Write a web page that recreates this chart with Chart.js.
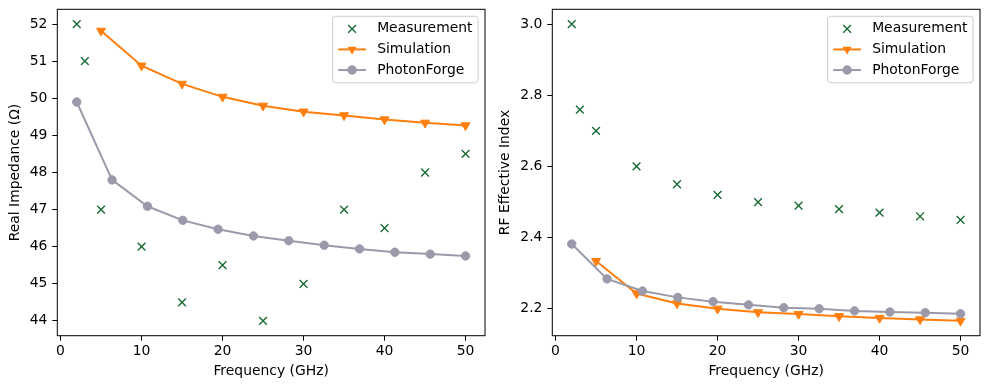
<!DOCTYPE html>
<html>
<head>
<meta charset="utf-8">
<script src="https://cdn.jsdelivr.net/npm/chart.js@4.4.1/dist/chart.umd.min.js"></script>
<style>
	body { margin: 0; background: #fff; }
	#wrap { position: relative; width: 989px; height: 389px; }
	canvas { position: absolute; top: 0; }
	#impChart { left: 0; }
	#idxChart { left: 494px; }
</style>
</head>
<body>
<div id="wrap">
	<canvas id="impChart" width="494" height="389"></canvas>
	<canvas id="idxChart" width="495" height="389"></canvas>
</div>
<script>
const freqMeas = [2, 3, 5, 10, 15, 20, 25, 30, 35, 40, 45, 50];
const freqSim = [5, 10, 15, 20, 25, 30, 35, 40, 45, 50];
const freqPF = [2, 6.36, 10.73, 15.09, 19.45, 23.82, 28.18, 32.55, 36.91, 41.27, 45.64, 50];

const impMeas = [52, 51, 47, 46, 44.5, 45.5, 44, 45, 47, 46.5, 48, 48.5];
const impSim = [51.82, 50.88, 50.39, 50.04, 49.8, 49.64, 49.54, 49.43, 49.34, 49.27];
const impPF = [49.9, 47.8, 47.09, 46.71, 46.47, 46.29, 46.16, 46.04, 45.94, 45.85, 45.8, 45.75];

const idxMeas = [3.0, 2.76, 2.7, 2.6, 2.55, 2.52, 2.5, 2.49, 2.48, 2.47, 2.46, 2.45];
const idxSim = [2.334, 2.243, 2.215, 2.2, 2.19, 2.185, 2.179, 2.174, 2.17, 2.166];
const idxPF = [2.382, 2.284, 2.25, 2.232, 2.22, 2.211, 2.203, 2.2, 2.194, 2.191, 2.189, 2.186];

const freqTicks = [0, 10, 20, 30, 40, 50];
const impTicks = [44, 45, 46, 47, 48, 49, 50, 51, 52];
const idxTicks = [2.2, 2.4, 2.6, 2.8, 3.0];

const seriesNames = ["Measurement", "Simulation", "PhotonForge"];
const seriesColors = ["#1a6b35", "#ff7f0e", "#9a9aab"];

const FS = 13.9;
Chart.defaults.font.family = "'DejaVu Sans', sans-serif";
Chart.defaults.font.size = FS;
Chart.defaults.color = "#000";

function pts(xs, ys) {
	return xs.map((x, i) => ({ x: x, y: ys[i] }));
}

// matplotlib style 5% margins
function limits(arrays) {
	const all = [].concat(...arrays);
	const lo = Math.min(...all), hi = Math.max(...all);
	const m = (hi - lo) * 0.05;
	return [lo - m, hi + m];
}

// frame box + legend inside the axes
const boxLegend = {
	id: "boxLegend",
	afterDraw(chart) {
		const ctx = chart.ctx;
		const a = chart.chartArea;
		ctx.save();
		ctx.strokeStyle = "#000";
		ctx.lineWidth = 1;
		ctx.strokeRect(a.left, a.top, a.right - a.left, a.bottom - a.top);

		ctx.font = FS + "px 'DejaVu Sans'";
		const textW = Math.max(...seriesNames.map(n => ctx.measureText(n).width));
		const bw = 0.4 * FS + 2 * FS + 0.8 * FS + textW + 0.4 * FS;
		const bh = 66.5;
		const bx = a.right - 0.5 * FS - bw;
		const by = a.top + 0.5 * FS;
		ctx.beginPath();
		ctx.roundRect(bx, by, bw, bh, 3);
		ctx.fillStyle = "rgba(255,255,255,0.8)";
		ctx.fill();
		ctx.strokeStyle = "#cccccc";
		ctx.stroke();

		const x0 = bx + 0.4 * FS, x1 = x0 + 2 * FS, cx = (x0 + x1) / 2;
		seriesNames.forEach((name, i) => {
			const y = by + 12.6 + i * 20.6;
			const c = seriesColors[i];
			ctx.strokeStyle = c;
			ctx.fillStyle = c;
			if (i > 0) {
				ctx.lineWidth = 2;
				ctx.beginPath();
				ctx.moveTo(x0, y);
				ctx.lineTo(x1, y);
				ctx.stroke();
			}
			ctx.lineWidth = 1.4;
			ctx.beginPath();
			if (i === 0) {
				const d = 3.9;
				ctx.moveTo(cx - d, y - d); ctx.lineTo(cx + d, y + d);
				ctx.moveTo(cx + d, y - d); ctx.lineTo(cx - d, y + d);
				ctx.stroke();
			} else if (i === 1) {
				ctx.moveTo(cx - 4.5, y - 2.6);
				ctx.lineTo(cx + 4.5, y - 2.6);
				ctx.lineTo(cx, y + 5.2);
				ctx.closePath();
				ctx.fill();
			} else {
				ctx.arc(cx, y, 4.7, 0, Math.PI * 2);
				ctx.fill();
			}
			ctx.fillStyle = "#000";
			ctx.textBaseline = "middle";
			ctx.textAlign = "left";
			ctx.fillText(name, x1 + 0.8 * FS, y);
		});
		ctx.restore();
	}
};

function makeChart(id, yTitle, meas, sim, pf, yTicks, yFmt, yWidth, titlePad) {
	const xLim = limits([freqMeas, freqSim, freqPF]);
	const yLim = limits([meas, sim, pf]);
	const ctx = document.getElementById(id).getContext("2d");
	return new Chart(ctx, {
		type: "scatter",
		data: {
			datasets: [
				{
					label: seriesNames[0],
					data: pts(freqMeas, meas),
					showLine: false,
					pointStyle: "crossRot",
					pointRadius: 5.5,
					pointBorderWidth: 1.4,
					pointBorderColor: seriesColors[0],
					pointBackgroundColor: seriesColors[0],
					order: 3
				},
				{
					label: seriesNames[1],
					data: pts(freqSim, sim),
					showLine: true,
					borderColor: seriesColors[1],
					borderWidth: 2,
					pointStyle: "triangle",
					rotation: 180,
					pointRadius: 5.2,
					pointBorderWidth: 1,
					pointBorderColor: seriesColors[1],
					pointBackgroundColor: seriesColors[1],
					order: 2
				},
				{
					label: seriesNames[2],
					data: pts(freqPF, pf),
					showLine: true,
					borderColor: seriesColors[2],
					borderWidth: 2,
					pointStyle: "circle",
					pointRadius: 4.2,
					pointBorderWidth: 1,
					pointBorderColor: seriesColors[2],
					pointBackgroundColor: seriesColors[2],
					order: 1
				}
			]
		},
		options: {
			responsive: false,
			animation: false,
			events: [],
			layout: { padding: { top: 9.3, right: 9, left: 0, bottom: 0 } },
			scales: {
				x: {
					type: "linear",
					min: xLim[0],
					max: xLim[1],
					afterBuildTicks: s => { s.ticks = freqTicks.map(v => ({ value: v })); },
					afterFit: s => { s.height = 53.3; s.paddingLeft = 0; s.paddingRight = 0; },
					ticks: { padding: 2.7, color: "#000", callback: v => String(v) },
					grid: { drawOnChartArea: false, drawTicks: true, tickLength: 5, tickColor: "#000" },
					border: { display: false },
					title: { display: true, text: "Frequency (GHz)", color: "#000", padding: { top: 0, bottom: 9 } }
				},
				y: {
					type: "linear",
					min: yLim[0],
					max: yLim[1],
					afterBuildTicks: s => { s.ticks = yTicks.map(v => ({ value: v })); },
					afterFit: s => { s.width = yWidth; s.paddingTop = 0; s.paddingBottom = 0; },
					ticks: { padding: 4.9, color: "#000", callback: yFmt },
					grid: { drawOnChartArea: false, drawTicks: true, tickLength: 5, tickColor: "#000" },
					border: { display: false },
					title: { display: true, text: yTitle, color: "#000", padding: { top: titlePad, bottom: 0 } }
				}
			},
			plugins: {
				legend: { display: false },
				tooltip: { enabled: false }
			}
		},
		plugins: [boxLegend]
	});
}

makeChart("impChart", "Real Impedance (Ω)", impMeas, impSim, impPF, impTicks, v => String(v), 57.3, 6.7);
makeChart("idxChart", "RF Effective Index", idxMeas, idxSim, idxPF, idxTicks, v => v.toFixed(1), 58.3, 2.7);
</script>
</body>
</html>
